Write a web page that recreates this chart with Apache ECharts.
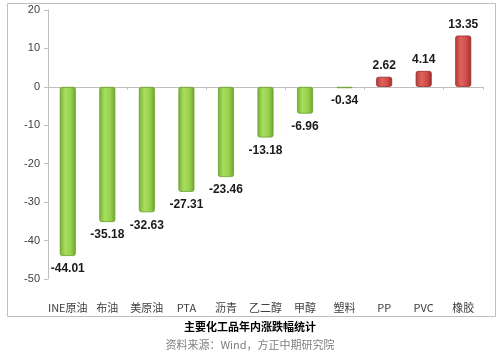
<!DOCTYPE html>
<html><head><meta charset="utf-8">
<script src="https://cdn.jsdelivr.net/npm/echarts@6/dist/echarts.min.js"></script>
<style>html,body{margin:0;padding:0;background:#fff}#c{width:500px;height:353px}</style>
</head><body><div id="c"></div>
<script>
const categories = ['INE原油','布油','美原油','PTA','沥青','乙二醇','甲醇','塑料','PP','PVC','橡胶'];
const values = [-44.01,-35.18,-32.63,-27.31,-23.46,-13.18,-6.96,-0.34,2.62,4.14,13.35];
const yTicks = [-50,-40,-30,-20,-10,0,10,20];
const titleText = '主要化工品年内涨跌幅统计';
const sourceText = '资料来源：Wind，方正中期研究院';

const green = new echarts.graphic.LinearGradient(0,0,1,0,[
  {offset:0,color:'#78b036'},{offset:0.35,color:'#a8df5e'},{offset:0.7,color:'#95d04c'},{offset:1,color:'#6fa32f'}]);
const red = new echarts.graphic.LinearGradient(0,0,1,0,[
  {offset:0,color:'#b03b38'},{offset:0.35,color:'#e0625d'},{offset:0.7,color:'#cf4d49'},{offset:1,color:'#9c2d2a'}]);

const font = '"Noto Sans CJK SC","Noto Sans",sans-serif';
const chart = echarts.init(document.getElementById('c'));
chart.setOption({
  animation:false,
  grid:{left:48,right:17,top:10,bottom:74},
  xAxis:[{type:'category',data:categories,position:'bottom',
    axisLine:{show:false,onZero:false},
    axisTick:{show:false},
    axisLabel:{interval:0,color:'#404040',fontSize:11,fontFamily:font,margin:23}
  },{type:'category',data:categories,position:'bottom',
    axisLine:{onZero:true,lineStyle:{color:'#bfbfbf'}},
    axisTick:{show:true,length:3,lineStyle:{color:'#bfbfbf'}},
    axisLabel:{show:false}
  }],
  yAxis:{type:'value',min:-50,max:20,interval:10,
    axisLine:{show:true,lineStyle:{color:'#bfbfbf'}},
    axisTick:{show:true,length:4,lineStyle:{color:'#bfbfbf'}},
    splitLine:{show:false},
    axisLabel:{color:'#404040',fontSize:11,fontFamily:'"Liberation Sans",sans-serif',margin:8}},
  series:[{type:'bar',barWidth:16,xAxisIndex:0,
    data:values.map(v=>({value:v,itemStyle:{color:v<0?green:red,borderRadius:2,
      borderColor:v<0?'#6a9e2e':'#9a2c29',borderWidth:0.8},
      label:{position:v<0?'bottom':'top',distance:v<0?7:5}})),
    label:{show:true,fontSize:12,fontWeight:'bold',color:'#1a1a1a',fontFamily:'"Liberation Sans",sans-serif',
      formatter:p=>p.value.toFixed(2)}}],
  graphic:[
    {type:'rect',shape:{x:7.5,y:3.5,width:488,height:313},style:{fill:'none',stroke:'#bfbfbf',lineWidth:1},silent:true},
    {type:'text',left:'center',top:321,style:{text:titleText,fontSize:11,fontFamily:font,fill:'#000',fontWeight:'bold'}},
    {type:'text',left:'center',top:339,style:{text:sourceText,fontSize:11,fontFamily:font,fill:'#808080'}}
  ]
});
</script></body></html>
